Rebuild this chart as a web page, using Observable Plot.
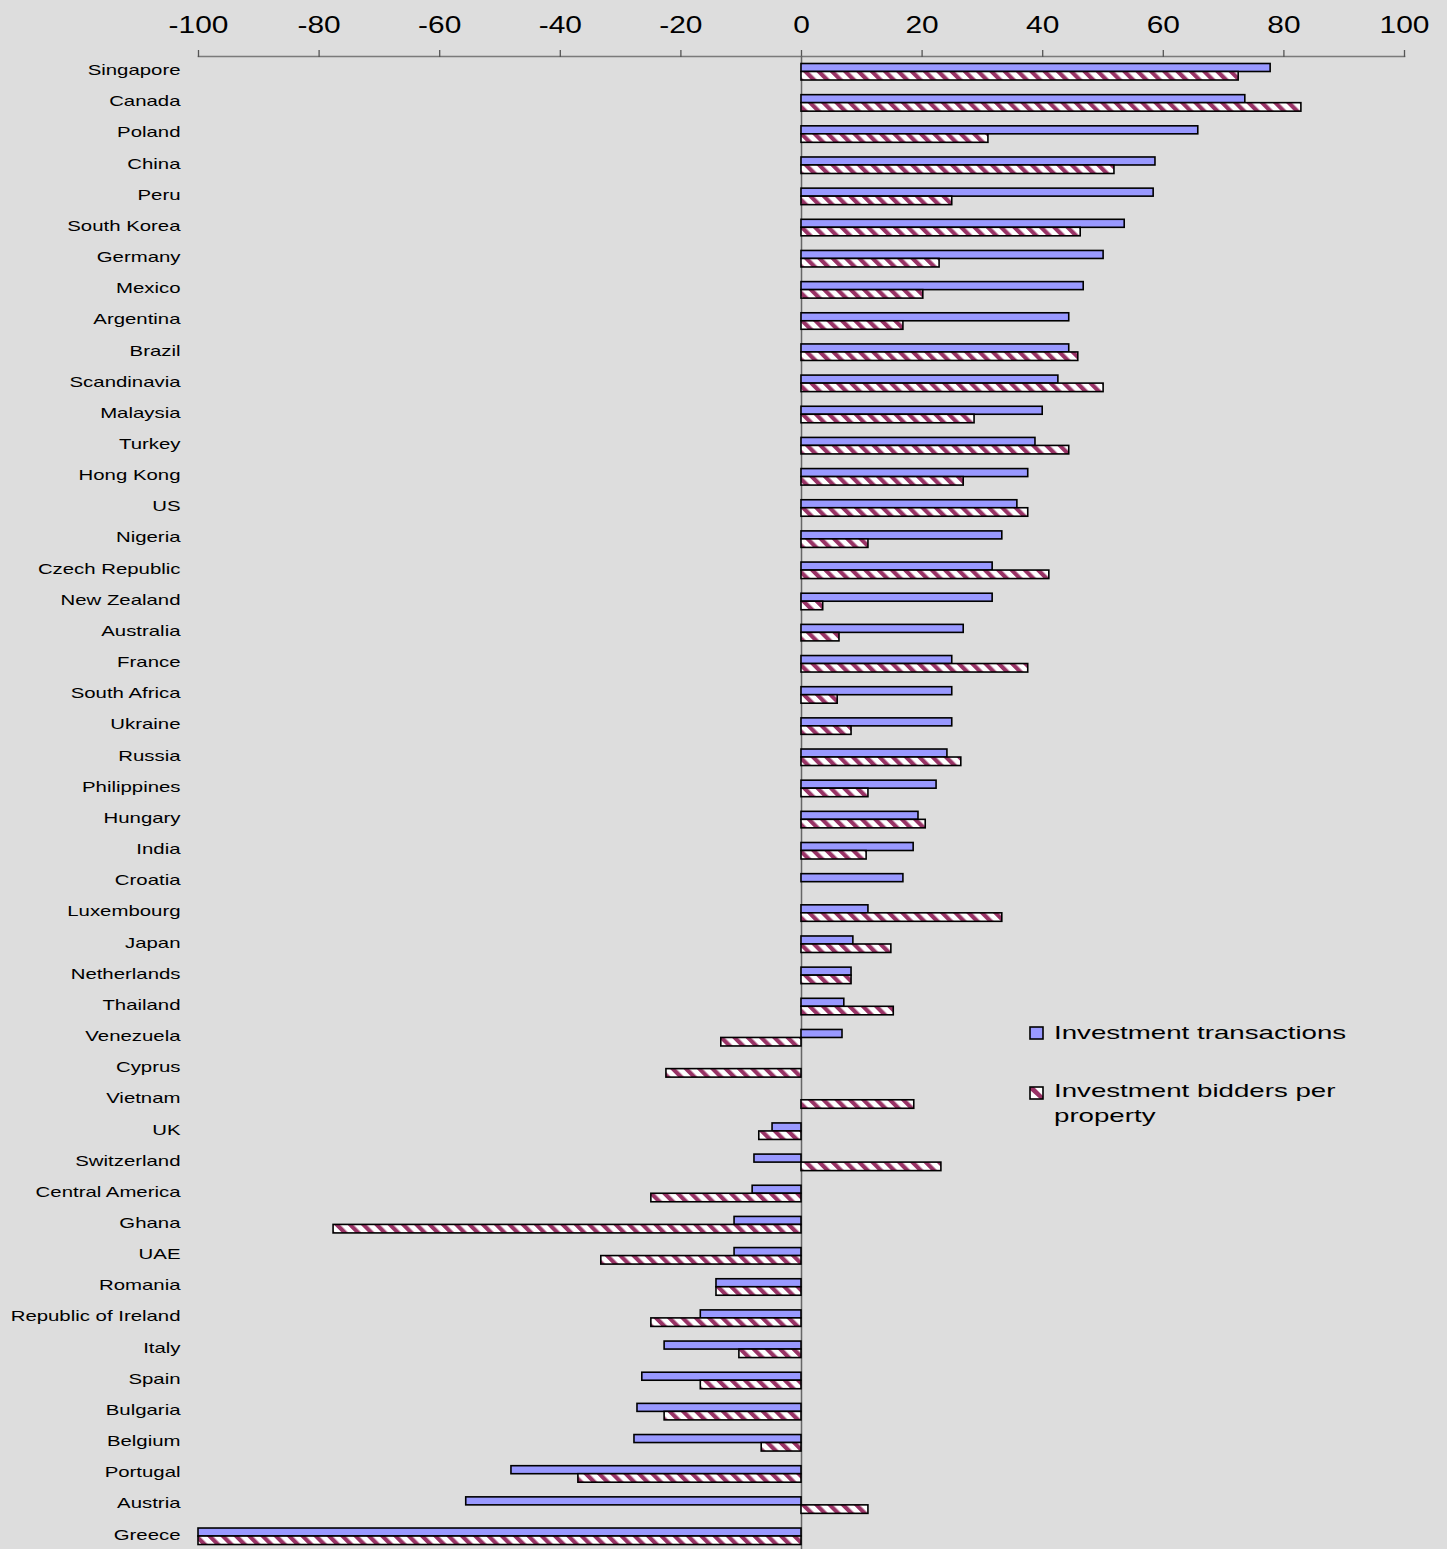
<!DOCTYPE html>
<html>
<head>
<meta charset="utf-8">
<script src="https://cdn.jsdelivr.net/npm/d3@7"></script>
<script src="https://cdn.jsdelivr.net/npm/@observablehq/plot@0.6"></script>
<style>
  html, body { margin: 0; padding: 0; background: #dddddd; overflow: hidden; }
  #wrap { position: relative; width: 1447px; height: 1549px; }
  .legend-item { position: absolute; left: 1029px; font-family: "Liberation Sans", Arial, sans-serif; font-size: 19px; line-height: 25px; color: #000; }
  .legend-item svg { position: absolute; left: 0; }
  .legend-item .lbl { position: absolute; left: 25px; top: 0; white-space: nowrap; transform: scaleX(1.456); transform-origin: 0 0; }
</style>
</head>
<body>
<div id="wrap"></div>
<script>
// Survey balances by market, top to bottom
const countries = [
  "Singapore", "Canada", "Poland", "China", "Peru", "South Korea", "Germany", "Mexico",
  "Argentina", "Brazil", "Scandinavia", "Malaysia", "Turkey", "Hong Kong", "US", "Nigeria",
  "Czech Republic", "New Zealand", "Australia", "France", "South Africa", "Ukraine", "Russia",
  "Philippines", "Hungary", "India", "Croatia", "Luxembourg", "Japan", "Netherlands", "Thailand",
  "Venezuela", "Cyprus", "Vietnam", "UK", "Switzerland", "Central America", "Ghana", "UAE",
  "Romania", "Republic of Ireland", "Italy", "Spain", "Bulgaria", "Belgium", "Portugal",
  "Austria", "Greece"
];

// Net balance: investment transactions
const transactions = [
  77.8, 73.6, 65.8, 58.7, 58.4, 53.6, 50.1, 46.8,
  44.4, 44.4, 42.6, 40.0, 38.8, 37.6, 35.8, 33.3,
  31.7, 31.7, 26.9, 25.0, 25.0, 25.0, 24.2,
  22.4, 19.4, 18.6, 16.9, 11.1, 8.6, 8.3, 7.1,
  6.8, null, null, -4.8, -7.8, -8.1, -11.1, -11.1,
  -14.1, -16.7, -22.7, -26.4, -27.2, -27.7, -48.1,
  -55.6, -100
];

// Net balance: investment bidders per property
const bidders = [
  72.5, 82.9, 31.0, 51.9, 25.0, 46.3, 22.9, 20.2,
  16.9, 45.9, 50.1, 28.7, 44.4, 26.9, 37.6, 11.1,
  41.1, 3.6, 6.3, 37.6, 6.0, 8.3, 26.5,
  11.1, 20.6, 10.8, null, 33.3, 14.9, 8.3, 15.3,
  -13.3, -22.4, 18.7, -7.0, 23.2, -24.9, -77.6, -33.2,
  -14.1, -24.9, -10.3, -16.7, -22.7, -6.6, -37.0,
  11.1, -100
];

const xTicks = [-100, -80, -60, -40, -20, 0, 20, 40, 60, 80, 100];
const seriesNames = ["Investment transactions", "Investment bidders per property"];

const blue = "#9999ff";
const maroon = "#993366";

const rows = countries.map((country, i) => ({country, transactions: transactions[i], bidders: bidders[i]}));

const svg = Plot.plot({
  width: 1447,
  height: 1549,
  marginTop: 56,
  marginLeft: 198,
  marginRight: 43,
  marginBottom: 0,
  style: {background: "#dddddd", fontFamily: "'Liberation Sans', Arial, sans-serif", color: "#000", overflow: "visible"},
  x: {domain: [-100, 100]},
  y: {type: "band", domain: countries, range: [56, 56 + 48 * 31.16], paddingInner: 0, paddingOuter: 0, round: false, label: null},
  marks: [
    Plot.frame({anchor: "top", stroke: "#7a7a7a", strokeWidth: 1.6}),
    Plot.axisX(xTicks, {anchor: "top", tickSize: 7, tickPadding: 17, fontSize: 23, stroke: "#555", strokeWidth: 1.3, fill: "#000", tickFormat: d => `${d}`, label: null}),
    Plot.axisY({tickSize: 0, tickPadding: 18, fontSize: 14, fill: "#000", dy: -1.5, label: null}),
    Plot.ruleX([0], {stroke: "#666", strokeWidth: 1.5}),
    Plot.barX(rows.filter(d => d.transactions != null), {
      x: "transactions", y: "country", fill: blue, stroke: "#000", strokeWidth: 1.6,
      insetTop: 7.5, insetBottom: 15.66
    }),
    Plot.barX(rows.filter(d => d.bidders != null), {
      x: "bidders", y: "country", fill: "url(#hatch)", stroke: "#000", strokeWidth: 1.6,
      insetTop: 15.5, insetBottom: 7.16
    })
  ]
});

// Diagonal hatch used by the second series
const defs = d3.select(svg).insert("defs", ":first-child");
const pat = defs.append("pattern")
  .attr("id", "hatch")
  .attr("patternUnits", "userSpaceOnUse")
  .attr("width", 9.4).attr("height", 9.4)
  .attr("patternTransform", "rotate(-45)");
pat.append("rect").attr("width", 9.4).attr("height", 9.4).attr("fill", "#fff");
pat.append("rect").attr("width", 4.2).attr("height", 9.4).attr("fill", maroon);

// Widen the lettering horizontally
function stretch(selection, k) {
  selection.each(function () {
    const t = this.getAttribute("transform") || "";
    this.setAttribute("transform", `${t} scale(${k},1)`);
  });
}
stretch(d3.select(svg).selectAll('[aria-label="y-axis tick label"] text'), 1.456);
stretch(d3.select(svg).selectAll('[aria-label="x-axis tick label"] text'), 1.3);

const wrap = document.getElementById("wrap");
wrap.appendChild(svg);

// Legend
function legendItem(top, swatchTop, name, swatch) {
  const div = document.createElement("div");
  div.className = "legend-item";
  div.style.top = top + "px";
  const parts = name.split("|");
  div.innerHTML = `<svg width="16" height="16" style="top:${swatchTop - top}px">${swatch}</svg>` +
    `<span class="lbl">${parts.join("<br>")}</span>`;
  wrap.appendChild(div);
}
legendItem(1020, 1026, seriesNames[0],
  `<rect x="1" y="1" width="13" height="12" fill="${blue}" stroke="#000" stroke-width="1.6"/>`);
legendItem(1078, 1086, "Investment bidders per|property",
  `<rect x="1" y="1" width="13" height="12" fill="#fff"/>` +
  `<polygon points="1,1 5,1 14,10 14,13 11,13 1,4" fill="${maroon}"/>` +
  `<rect x="1" y="1" width="13" height="12" fill="none" stroke="#000" stroke-width="1.6"/>`);
</script>
</body>
</html>
